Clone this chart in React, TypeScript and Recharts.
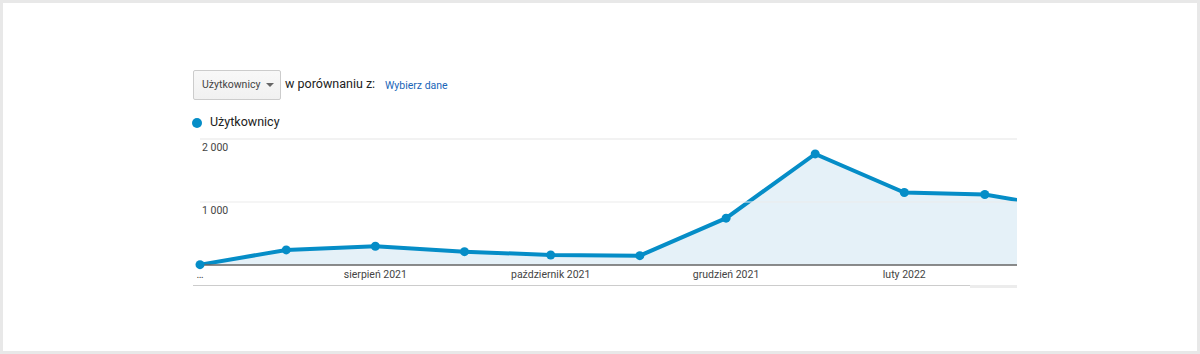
import {
  Area,
  CartesianGrid,
  ComposedChart,
  ReferenceLine,
  XAxis,
  YAxis,
} from "recharts";

// monthly points (Google Analytics "Użytkownicy")
const months = [
  "2021-06-01",
  "2021-07-01",
  "2021-08-01",
  "2021-09-01",
  "2021-10-01",
  "2021-11-01",
  "2021-12-01",
  "2022-01-01",
  "2022-02-01",
  "2022-03-01",
  "2022-04-01",
];
const users = [5, 239, 298, 212, 159, 148, 744, 1763, 1151, 1119, 880];

const tickDates = ["2021-06-01", "2021-08-01", "2021-10-01", "2021-12-01", "2022-02-01"];
const tickLabels = ["…", "sierpień 2021", "październik 2021", "grudzień 2021", "luty 2022"];
const yTicks = [0, 500, 1000, 1500, 2000];
const yLabelled = [1000, 2000];

const BLUE = "#058dc7";
const DAY = 86400000;
const start = Date.parse(months[0]);
const toDay = (d: string) => Math.round((Date.parse(d) - start) / DAY);

const data = months.map((m, i) => ({ day: toDay(m), users: users[i] }));
const xTicks = tickDates.map(toDay);
// visible window ends a bit before the last month
const visibleDays = 284.2;

function fmtThousands(v: number) {
  return String(v).replace(/\B(?=(\d{3})+(?!\d))/g, " ");
}

function gridLabel(value: number) {
  return (props: any) => {
    const vb = props.viewBox || {};
    return (
      <text x={(vb.x ?? 0) + 2} y={(vb.y ?? 0) + 12} fontSize={10.5} fill="#444" textAnchor="start">
        {fmtThousands(value)}
      </text>
    );
  };
}

export default function App() {
  const font = "Roboto, 'Liberation Sans', Arial, sans-serif";
  return (
    <div
      style={{
        position: "absolute",
        left: 0,
        top: 0,
        width: 1200,
        height: 354,
        boxSizing: "border-box",
        border: "3px solid #e8e8e8",
        background: "#fff",
        fontFamily: font,
      }}
    >
      {/* metric selector */}
      <div
        style={{
          position: "absolute",
          left: 190,
          top: 67,
          width: 88,
          height: 30,
          border: "1px solid #ccc",
          borderRadius: 2,
          background: "linear-gradient(#f8f8f8, #f1f1f1)",
          fontSize: 10.5,
          color: "#444",
          lineHeight: "28px",
          paddingLeft: 8,
          boxSizing: "border-box",
        }}
      >
        Użytkownicy
        <span
          style={{
            position: "absolute",
            left: 72,
            top: 12,
            width: 0,
            height: 0,
            borderLeft: "4px solid transparent",
            borderRight: "4px solid transparent",
            borderTop: "4px solid #666",
          }}
        />
      </div>
      <div style={{ position: "absolute", left: 282, top: 73, fontSize: 12.5, color: "#222" }}>
        w porównaniu z:
      </div>
      <div style={{ position: "absolute", left: 382, top: 76, fontSize: 10.5, color: "#1a66b8" }}>
        Wybierz dane
      </div>

      {/* legend */}
      <div
        style={{
          position: "absolute",
          left: 189,
          top: 115,
          width: 10,
          height: 10,
          borderRadius: 5,
          background: BLUE,
        }}
      />
      <div style={{ position: "absolute", left: 207, top: 111, fontSize: 12.5, color: "#222" }}>
        Użytkownicy
      </div>

      <div style={{ position: "absolute", left: 187, top: 126 }}>
        <ComposedChart
          width={837}
          height={166}
          data={data}
          margin={{ top: 10, right: 10, bottom: 0, left: 10 }}
          style={{ fontFamily: font }}
        >
          <CartesianGrid vertical={false} stroke="#f3f3f3" />
          {yLabelled.map((v) => (
            <ReferenceLine key={v} y={v} stroke="#ebebeb" label={gridLabel(v)} />
          ))}
          <XAxis
            type="number"
            dataKey="day"
            domain={[0, visibleDays]}
            allowDataOverflow
            ticks={xTicks}
            tickFormatter={(v: number) => tickLabels[xTicks.indexOf(v)] ?? ""}
            tickLine={false}
            axisLine={{ stroke: "#666", strokeWidth: 1.5 }}
            tick={{ fontSize: 10.5, fill: "#444", dy: -2 }}
            interval={0}
            height={30}
          />
          <YAxis
            domain={[0, 2000]}
            ticks={yTicks}
            width={0}
            axisLine={false}
            tickLine={false}
            tick={false}
            allowDataOverflow
          />
          <Area
            type="linear"
            dataKey="users"
            stroke={BLUE}
            strokeWidth={4}
            fill="#e5f1f8"
            fillOpacity={1}
            dot={{ r: 4.5, fill: BLUE, stroke: "none", clipDot: false }}
            activeDot={false}
            isAnimationActive={false}
          />
        </ComposedChart>
      </div>

      {/* scroll track under the chart */}
      <div
        style={{
          position: "absolute",
          left: 190,
          top: 282,
          width: 824,
          height: 1,
          background: "#ccc",
        }}
      />
      <div
        style={{
          position: "absolute",
          left: 967,
          top: 282,
          width: 47,
          height: 3,
          background: "#ececec",
        }}
      />
    </div>
  );
}
